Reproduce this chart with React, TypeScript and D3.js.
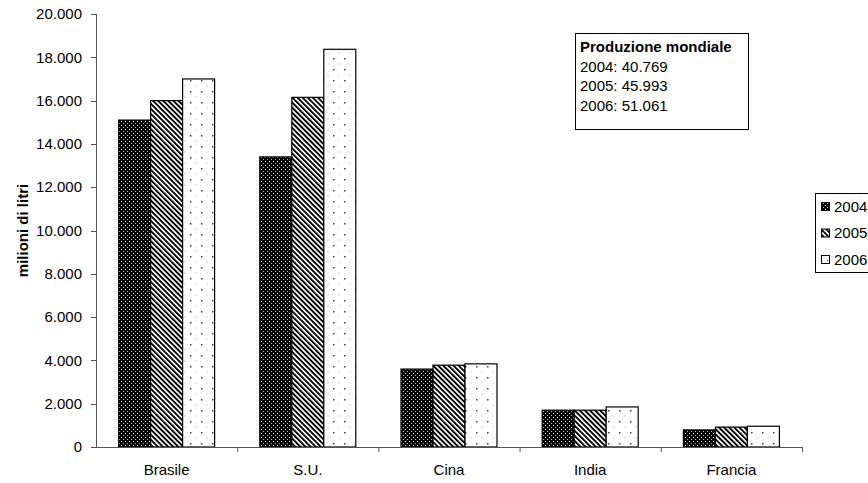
import React from "react";
import * as d3 from "d3";

const categories = ["Brasile", "S.U.", "Cina", "India", "Francia"];
const years = ["2004", "2005", "2006"];
const values2004 = [15100, 13400, 3600, 1700, 790];
const values2005 = [16000, 16150, 3780, 1700, 920];
const values2006 = [17000, 18370, 3840, 1850, 960];
const yTicks = [0, 2000, 4000, 6000, 8000, 10000, 12000, 14000, 16000, 18000, 20000];
const boxTitle = "Produzione mondiale";
const boxLines = ["2004: 40.769", "2005: 45.993", "2006: 51.061"];
const yTitle = "milioni di litri";

const W = 868;
const H = 483;
const left = 96;
const right = 802;
const top = 14;
const bottom = 447;
const FONT = "'Liberation Sans', Arial, sans-serif";

export default function App() {
  const series = [values2004, values2005, values2006];
  const x0 = d3.scaleBand().domain(categories).range([left, right]).paddingInner(0).paddingOuter(0);
  const groupW = 96;
  const x1 = d3.scaleBand().domain(years).range([0, groupW]);
  const y = d3.scaleLinear().domain([0, 20000]).range([bottom, top]);
  const fmt = (v: number) => d3.format(",")(v).replace(/,/g, ".");
  const fills = ["url(#p2004)", "url(#p2005)", "url(#p2006)"];

  return (
    <svg width={W} height={H} style={{ position: "absolute", left: 0, top: 0, background: "#fff" }} fontFamily={FONT}>
      <defs>
        <pattern id="p2004" width="4" height="4" patternUnits="userSpaceOnUse">
          <rect width="4" height="4" fill="#000" />
          <rect x="1" y="1" width="1" height="1" fill="#fff" />
          <rect x="3" y="3" width="1" height="1" fill="#bbb" />
        </pattern>
        <pattern id="p2005" width="3.6" height="4" patternUnits="userSpaceOnUse" patternTransform="rotate(-45)">
          <rect width="3.6" height="4" fill="#fff" />
          <rect width="1.9" height="4" fill="#000" />
        </pattern>
        <pattern id="p2006" width="11" height="11" patternUnits="userSpaceOnUse" x="2" y="2">
          <rect width="11" height="11" fill="#fff" />
          <rect x="1" y="1" width="1.5" height="1.5" fill="#444" />
          <rect x="6.5" y="6.5" width="1" height="1" fill="#aaa" />
        </pattern>
        <pattern id="l2006" width="8" height="8" patternUnits="userSpaceOnUse">
          <rect width="8" height="8" fill="#fff" />
          <rect x="3" y="4" width="1" height="1" fill="#444" />
        </pattern>
      </defs>

      {/* y axis */}
      <line x1={left + 0.5} x2={left + 0.5} y1={top} y2={bottom} stroke="#555" />
      {yTicks.map((t) => (
        <g key={t}>
          <line x1={left - 5} x2={left} y1={Math.round(y(t)) + 0.5} y2={Math.round(y(t)) + 0.5} stroke="#555" />
          <text x={left - 14} y={y(t)} dy="0.35em" textAnchor="end" fontSize={15}>
            {fmt(t)}
          </text>
        </g>
      ))}
      <text
        transform={`translate(${23},${(top + bottom) / 2}) rotate(-90)`}
        textAnchor="middle"
        dy="0.35em"
        fontSize={15}
        fontWeight="bold"
      >
        {yTitle}
      </text>

      {/* bars */}
      {categories.map((c, ci) => {
        const gx = (x0(c) as number) + (x0.bandwidth() - groupW) / 2;
        return (
          <g key={c}>
            {series.map((s, si) => {
              const bx = gx + (x1(years[si]) as number);
              return (
                <rect
                  key={si}
                  x={bx}
                  y={y(s[ci])}
                  width={x1.bandwidth()}
                  height={bottom - y(s[ci])}
                  fill={fills[si]}
                  stroke="#000"
                  strokeWidth={1.2}
                />
              );
            })}
          </g>
        );
      })}

      {/* x axis */}
      <line x1={left} x2={right} y1={bottom + 0.5} y2={bottom + 0.5} stroke="#555" />
      {categories.map((c, i) => (
        <line
          key={"t" + i}
          x1={(x0(c) as number) + x0.bandwidth() + 0.5}
          x2={(x0(c) as number) + x0.bandwidth() + 0.5}
          y1={bottom}
          y2={bottom + 5}
          stroke="#555"
        />
      ))}
      {categories.map((c) => (
        <text key={c} x={(x0(c) as number) + x0.bandwidth() / 2} y={bottom + 23} dy="0.35em" textAnchor="middle" fontSize={15}>
          {c}
        </text>
      ))}

      {/* annotation box */}
      <rect x={575.5} y={33.5} width={173} height={96} fill="#fff" stroke="#000" />
      <text x={580} y={52} fontSize={15} fontWeight="bold">
        {boxTitle}
      </text>
      {boxLines.map((l, i) => (
        <text key={l} x={580} y={71.5 + i * 19.5} fontSize={15}>
          {l}
        </text>
      ))}

      {/* legend */}
      <rect x={815.5} y={193.5} width={60} height={79} fill="#fff" stroke="#000" />
      {years.map((yr, i) => (
        <g key={yr}>
          <rect
            x={821.5}
            y={202.5 + i * 26.5}
            width={8}
            height={8}
            fill={i === 0 ? "url(#p2004)" : i === 1 ? "url(#p2005)" : "url(#l2006)"}
            stroke="#000"
          />
          <text x={834} y={206.5 + i * 26.5} dy="0.35em" fontSize={15}>
            {yr}
          </text>
        </g>
      ))}
    </svg>
  );
}
